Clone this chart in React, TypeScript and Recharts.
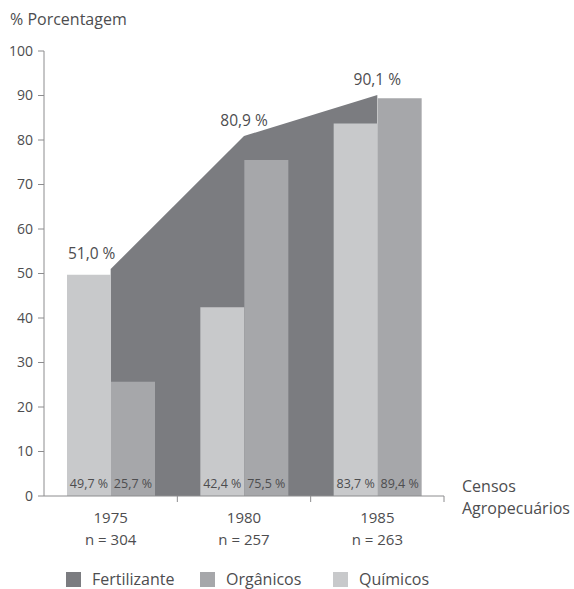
import { ComposedChart, Area, Bar, XAxis, YAxis, LabelList } from "recharts";

const years = ["1975", "1980", "1985"];
const sampleSizes = [304, 257, 263];
const fertilizante = [51.0, 80.9, 90.1];
const organicos = [25.7, 75.5, 89.4];
const quimicos = [49.7, 42.4, 83.7];
const yTicks = [0, 10, 20, 30, 40, 50, 60, 70, 80, 90, 100];

const data = years.map((year, i) => ({
  year,
  n: sampleSizes[i],
  fertilizante: fertilizante[i],
  organicos: organicos[i],
  quimicos: quimicos[i],
}));

const W = 574;
const H = 589;
const margin = { top: 51, right: 130, bottom: 43, left: 0 };
const yAxisWidth = 44;
const xAxisHeight = 50;
const halfBand = (W - margin.left - margin.right - yAxisWidth) / years.length / 2;

const FONT = "'Open Sans', sans-serif";
const TEXT = "#4d4d4f";
const AXIS = "#8c8c8e";
const DARK = "#7b7c80";
const MID = "#a6a7aa";
const LIGHT = "#c8c9cb";

const pct = (v: number) => v.toFixed(1).replace(".", ",") + " %";

function XTick(props: any) {
  const { x, y, index } = props;
  const d = data[index];
  return (
    <g>
      <line x1={x + halfBand} y1={y} x2={x + halfBand} y2={y + 6} stroke={AXIS} />
      <text x={x} y={y + 27} textAnchor="middle" fill={TEXT} fontSize={15} fontFamily={FONT}>
        {d.year}
      </text>
      <text x={x} y={y + 49} textAnchor="middle" fill={TEXT} fontSize={15} fontFamily={FONT}>
        n = {d.n}
      </text>
    </g>
  );
}

function AreaLabel(props: any) {
  const { x, y, value, index } = props;
  return (
    <text
      x={x + (index === 0 ? -19 : 0)}
      y={y - 10}
      textAnchor="middle"
      fill={TEXT}
      fontSize={15.5}
      fontFamily={FONT}
    >
      {pct(value)}
    </text>
  );
}

function BarLabel(props: any) {
  const { x, y, width, height, value } = props;
  return (
    <text
      x={x + width / 2}
      y={y + height - 8}
      textAnchor="middle"
      fill={TEXT}
      fontSize={12.5}
      fontFamily={FONT}
    >
      {pct(value)}
    </text>
  );
}

const legendItems = [
  { label: "Fertilizante", color: DARK, left: 66 },
  { label: "Orgânicos", color: MID, left: 200 },
  { label: "Químicos", color: LIGHT, left: 333 },
];

export default function App() {
  return (
    <div style={{ position: "absolute", left: 0, top: 0, width: W, height: H, background: "#fff", fontFamily: FONT }}>
      <div style={{ position: "absolute", left: 10, top: 8, fontSize: 16, color: TEXT }}>% Porcentagem</div>
      <div style={{ position: "absolute", left: 462, top: 475, fontSize: 16, color: TEXT, lineHeight: "22px" }}>
        Censos
        <br />
        Agropecuários
      </div>
      <ComposedChart width={W} height={H} data={data} margin={margin} barGap={0}>
        <XAxis
          dataKey="year"
          height={xAxisHeight}
          stroke={AXIS}
          tickLine={false}
          tickSize={0}
          tickMargin={0}
          tick={<XTick />}
          interval={0}
        />
        <YAxis
          domain={[0, 100]}
          ticks={yTicks}
          width={yAxisWidth}
          stroke={AXIS}
          tickSize={6}
          tickMargin={5}
          tick={{ fill: TEXT, fontSize: 14, fontFamily: FONT }}
          interval={0}
        />
        <Area
          dataKey="fertilizante"
          type="linear"
          fill={DARK}
          fillOpacity={1}
          stroke="none"
          dot={false}
          activeDot={false}
          isAnimationActive={false}
        >
          <LabelList dataKey="fertilizante" content={<AreaLabel />} />
        </Area>
        <Bar dataKey="quimicos" fill={LIGHT} barSize={44} isAnimationActive={false}>
          <LabelList dataKey="quimicos" content={<BarLabel />} />
        </Bar>
        <Bar dataKey="organicos" fill={MID} barSize={44} isAnimationActive={false}>
          <LabelList dataKey="organicos" content={<BarLabel />} />
        </Bar>
      </ComposedChart>
      {legendItems.map((it) => (
        <div
          key={it.label}
          style={{ position: "absolute", left: it.left, top: 568, display: "flex", alignItems: "center", fontSize: 16, color: TEXT }}
        >
          <span style={{ display: "inline-block", width: 15, height: 15, background: it.color, marginRight: 11 }} />
          {it.label}
        </div>
      ))}
    </div>
  );
}
